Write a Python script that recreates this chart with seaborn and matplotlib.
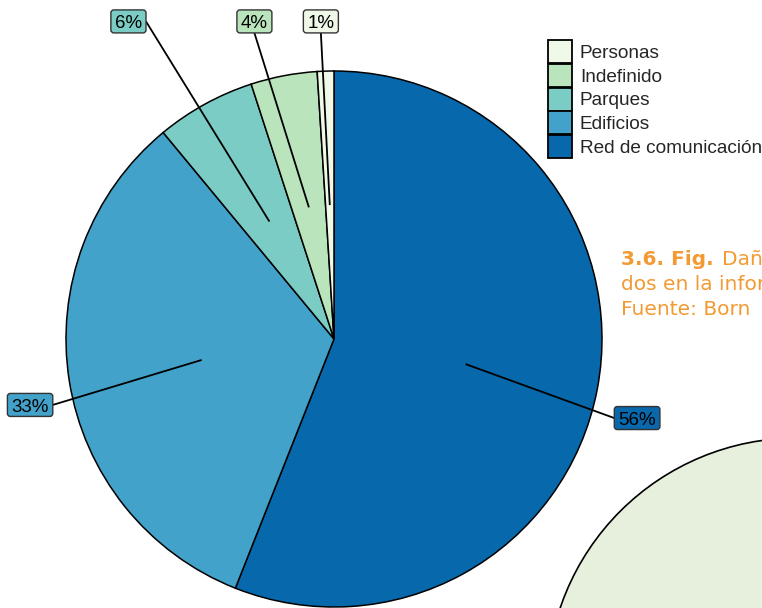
import matplotlib
matplotlib.use("Agg")
import numpy as np
import matplotlib.pyplot as plt
from matplotlib.patches import Circle, Patch, FancyBboxPatch
import seaborn as sns

# Damage categories, clockwise from 12 o'clock
categories = ["Red de comunicación", "Edificios", "Parques", "Indefinido", "Personas"]
shares = [56, 33, 6, 4, 1]
legend_order = ["Personas", "Indefinido", "Parques", "Edificios", "Red de comunicación"]

caption_bold = "3.6. Fig."
caption_lines = ["Daños registra-", "dos en la información", "Fuente: Born"]

# ColorBrewer GnBu, 5 classes
palette = dict(zip(legend_order, ["#f0f9e8", "#bae4bc", "#7bccc4", "#43a2ca", "#0868ac"]))

# Label placement (in pie radii, relative to the centre)
label_offsets = [(1.131, -0.295), (-1.134, -0.246), (-0.767, 1.185),
                 (-0.297, 1.185), (-0.049, 1.185)]

W, H = 762, 608
sns.set_theme(style="white")
plt.rcParams["font.family"] = ["Liberation Sans", "DejaVu Sans"]

fig = plt.figure(figsize=(W / 100, H / 100), dpi=100)
fig.patch.set_facecolor("white")
ax = fig.add_axes([0, 0, 1, 1])

cx, cy, R = 334, H - 339, 268

# disc of the neighbouring figure on the page
ax.add_patch(Circle((797, H - 688), 250, facecolor="#e7f0dd",
                    edgecolor="black", lw=1.2, zorder=0))

wedges, _ = ax.pie(shares, colors=[palette[c] for c in categories],
                   startangle=90, counterclock=False, center=(cx, cy),
                   radius=R, frame=True,
                   wedgeprops=dict(edgecolor="black", linewidth=1.1))
ax.set_xlim(0, W)
ax.set_ylim(0, H)
ax.set_aspect("equal")
ax.axis("off")

fs = 13.5
fs_px = fs * 100 / 72
texts = []
for w, cat, v, off in zip(wedges, categories, shares, label_offsets):
    lx, ly = cx + off[0] * R, cy + off[1] * R
    t = ax.text(lx, ly - 0.36 * fs_px, f"{v}%", ha="center", va="baseline",
                fontsize=fs, color="black", zorder=6)
    texts.append((w, cat, t, lx, ly))

fig.canvas.draw()
renderer = fig.canvas.get_renderer()
inv = ax.transData.inverted()
for w, cat, t, lx, ly in texts:
    bb = t.get_window_extent(renderer)
    x0, _ = inv.transform((bb.x0, bb.y0))
    x1, _ = inv.transform((bb.x1, bb.y1))
    bw = (x1 - x0) + 8
    bh = 23
    box = FancyBboxPatch((lx - bw / 2, ly - bh / 2), bw, bh,
                         boxstyle="round,pad=0,rounding_size=3",
                         facecolor=palette[cat], edgecolor="#333333",
                         lw=1.0, zorder=5)
    ax.add_patch(box)
    # leader from half radius of the wedge to the nearest side midpoint
    mid = np.deg2rad((w.theta1 + w.theta2) / 2)
    px, py = cx + 0.5 * R * np.cos(mid), cy + 0.5 * R * np.sin(mid)
    sides = [(lx - bw / 2, ly), (lx + bw / 2, ly), (lx, ly - bh / 2), (lx, ly + bh / 2)]
    ex, ey = min(sides, key=lambda s: (s[0] - px) ** 2 + (s[1] - py) ** 2)
    ax.plot([px, ex], [py, ey], color="black", lw=1.3, zorder=4,
            solid_capstyle="butt")

handles = [Patch(facecolor=palette[c], edgecolor="black", lw=1.3) for c in legend_order]
fig.legend(handles, legend_order, loc="upper left",
           bbox_to_anchor=(548 / W, 1 - 40 / H), bbox_transform=fig.transFigure,
           frameon=False, fontsize=13.7, handlelength=1.26, handleheight=1.483,
           labelspacing=0.04, handletextpad=0.42, borderpad=0, borderaxespad=0)

# caption text running off the right edge
orange = "#f39a33"
cap_font = ["DejaVu Sans"]
cap_fs = 14.5
tb = ax.text(621, H - 265, caption_bold, fontsize=cap_fs, color=orange,
             fontweight="bold", family=cap_font, ha="left", va="baseline")
fig.canvas.draw()
bb = tb.get_window_extent(renderer)
ax.text(inv.transform((bb.x1, 0))[0] + 8, H - 265, caption_lines[0], fontsize=cap_fs,
        color=orange, family=cap_font, ha="left", va="baseline")
ax.text(621, H - 290, caption_lines[1], fontsize=cap_fs, color=orange,
        family=cap_font, ha="left", va="baseline")
ax.text(621, H - 315, caption_lines[2], fontsize=cap_fs, color=orange,
        family=cap_font, ha="left", va="baseline")

fig.savefig("out.png", dpi=100, facecolor="white")
